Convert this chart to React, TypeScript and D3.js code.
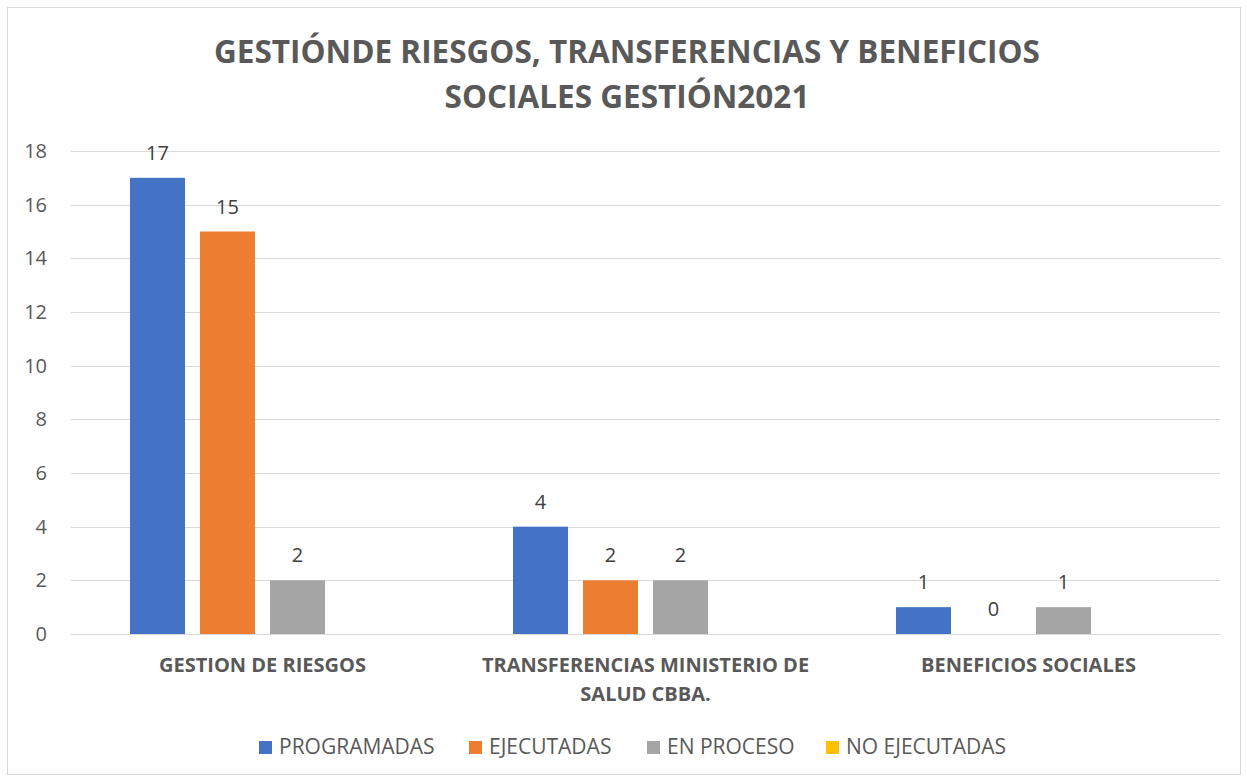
import React, { useRef, useEffect } from 'react';
import * as d3 from 'd3';

const categories = [
  ['GESTION DE RIESGOS'],
  ['TRANSFERENCIAS MINISTERIO DE', 'SALUD CBBA.'],
  ['BENEFICIOS SOCIALES'],
];
const seriesNames = ['PROGRAMADAS', 'EJECUTADAS', 'EN PROCESO', 'NO EJECUTADAS'];
const programadas = [17, 4, 1];
const ejecutadas = [15, 2, 0];
const enProceso = [2, 2, 1];
const noEjecutadas: (number | null)[] = [null, null, null];
const yTicks = [0, 2, 4, 6, 8, 10, 12, 14, 16, 18];
const titleLines = ['GESTIÓNDE RIESGOS, TRANSFERENCIAS Y BENEFICIOS', 'SOCIALES GESTIÓN2021'];

const colors = ['#4472C4', '#ED7D31', '#A5A5A5', '#FFC000'];

const W = 1247;
const H = 781;
const FONT = '"Open Sans", "Liberation Sans", sans-serif';

const App = () => {
  const ref = useRef<SVGSVGElement>(null);

  useEffect(() => {
    const svg = d3.select(ref.current);
    svg.selectAll('*').remove();

    const margin = { top: 151, right: 27, bottom: 147, left: 71 };
    const allSeries = [programadas, ejecutadas, enProceso, noEjecutadas];

    svg.append('rect')
      .attr('x', 7.5).attr('y', 7.5)
      .attr('width', 1233).attr('height', 767)
      .attr('fill', 'white')
      .attr('stroke', '#D9D9D9');

    // title
    const title = svg.append('text')
      .attr('text-anchor', 'middle')
      .attr('font-family', FONT)
      .attr('font-weight', 'bold')
      .attr('font-size', 31.5)
      .attr('fill', '#595959');
    titleLines.forEach((t, i) => {
      title.append('tspan').attr('x', 627).attr('y', 63 + i * 45).text(t);
    });

    const x0 = d3.scaleBand<number>()
      .domain(categories.map((_, i) => i))
      .range([margin.left, W - margin.right]);

    const x1 = d3.scaleBand<number>()
      .domain(seriesNames.map((_, i) => i))
      .range([0, x0.bandwidth()])
      .paddingInner(0.2143)
      .paddingOuter(0.843);

    const y = d3.scaleLinear()
      .domain([0, 18])
      .range([H - margin.bottom, margin.top]);

    // gridlines
    svg.append('g')
      .selectAll('line')
      .data(yTicks)
      .join('line')
      .attr('x1', margin.left)
      .attr('x2', W - margin.right)
      .attr('y1', d => Math.round(y(d)) + 0.5)
      .attr('y2', d => Math.round(y(d)) + 0.5)
      .attr('stroke', '#D9D9D9')
      .attr('stroke-width', 1);

    // y labels
    svg.append('g')
      .selectAll('text')
      .data(yTicks)
      .join('text')
      .attr('x', 47)
      .attr('y', d => y(d))
      .attr('dy', '0.35em')
      .attr('text-anchor', 'end')
      .attr('font-family', FONT)
      .attr('font-size', 20)
      .attr('fill', '#595959')
      .text(d => d);

    // bars
    allSeries.forEach((vals, si) => {
      const g = svg.append('g');
      vals.forEach((v, ci) => {
        if (v === null) return;
        const bx = x0(ci)! + x1(si)!;
        g.append('rect')
          .attr('x', bx)
          .attr('y', y(v))
          .attr('width', x1.bandwidth())
          .attr('height', y(0) - y(v))
          .attr('fill', colors[si]);
        g.append('text')
          .attr('x', bx + x1.bandwidth() / 2)
          .attr('y', y(v) - 25)
          .attr('dy', '0.35em')
          .attr('text-anchor', 'middle')
          .attr('font-family', FONT)
          .attr('font-size', 20)
          .attr('fill', '#404040')
          .text(v);
      });
    });

    // category labels
    categories.forEach((lines, ci) => {
      const t = svg.append('text')
        .attr('text-anchor', 'middle')
        .attr('font-family', FONT)
        .attr('font-weight', 'bold')
        .attr('font-size', 20)
        .attr('fill', '#595959');
      lines.forEach((l, li) => {
        t.append('tspan')
          .attr('x', x0(ci)! + x0.bandwidth() / 2)
          .attr('y', 672 + li * 29)
          .text(l);
      });
    });

    // legend
    const legendX = [259, 469, 647, 826];
    const legend = svg.append('g');
    seriesNames.forEach((name, i) => {
      legend.append('rect')
        .attr('x', legendX[i]).attr('y', 741)
        .attr('width', 13).attr('height', 13)
        .attr('fill', colors[i]);
      legend.append('text')
        .attr('x', legendX[i] + 20)
        .attr('y', 747)
        .attr('dy', '0.35em')
        .attr('font-family', FONT)
        .attr('font-size', 21)
        .attr('fill', '#595959')
        .text(name);
    });
  }, []);

  return (
    <svg ref={ref} width={W} height={H} style={{ position: 'absolute', left: 0, top: 0 }}></svg>
  );
};

export default App;
